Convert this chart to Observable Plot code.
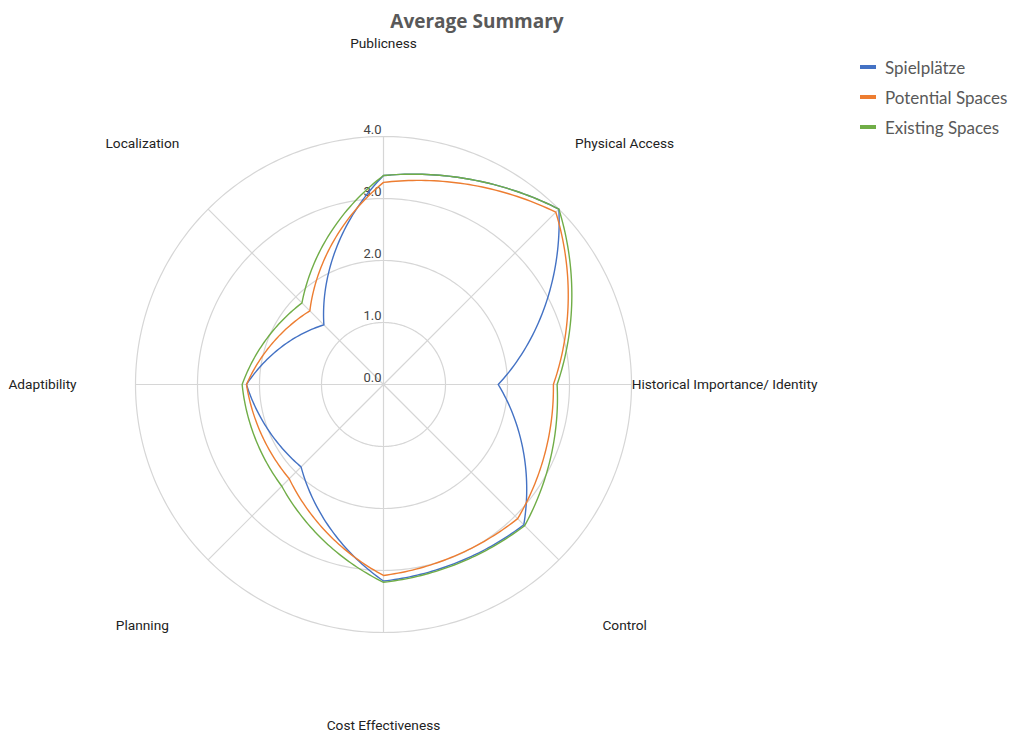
<!DOCTYPE html>
<html>
<head>
<meta charset="utf-8">
<script src="https://cdn.jsdelivr.net/npm/d3@7"></script>
<script src="https://cdn.jsdelivr.net/npm/@observablehq/plot@0.6"></script>
<style>
  html, body { margin: 0; padding: 0; background: #fff; }
  #wrap { position: relative; width: 1012px; height: 734px; overflow: hidden; }
  #title { position: absolute; left: 0; width: 954px; top: 8px; text-align: center;
    font-family: "Open Sans", sans-serif; font-weight: 700; font-size: 19px; color: #595959; }
  #legend { position: absolute; left: 860px; top: 52px; font-family: Lato, sans-serif; font-size: 17px; color: #595959; }
  .li { display: flex; align-items: center; height: 30px; }
  .sw { width: 16px; height: 4px; margin-right: 9px; }
  svg { position: absolute; left: 0; top: 0; }
</style>
</head>
<body>
<div id="wrap">
  <div id="title">Average Summary</div>
  <div id="legend"></div>
</div>
<script>
const categories = ["Publicness", "Physical Access", "Historical Importance/ Identity", "Control",
  "Cost Effectiveness", "Planning", "Adaptibility", "Localization"];
const seriesNames = ["Spielplätze", "Potential Spaces", "Existing Spaces"];
const spielplaetze = [3.37, 4.0, 1.85, 3.2, 3.17, 1.88, 2.21, 1.36];
const potentialSpaces = [3.26, 3.93, 2.74, 3.06, 3.08, 2.15, 2.21, 1.68];
const existingSpaces = [3.37, 4.0, 2.8, 3.22, 3.19, 2.32, 2.28, 1.86];
const tickValues = [0, 1, 2, 3, 4];
const tickLabels = ["0.0", "1.0", "2.0", "3.0", "4.0"];
const colors = ["#4472C4", "#ED7D31", "#70AD47"];

const seriesValues = [spielplaetze, potentialSpaces, existingSpaces];
const N = categories.length;
const angle = i => (i * 2 * Math.PI) / N;
const MAXV = 4;
const LABEL_R = 5.5;

// Scale layout
const X_RANGE = [135, 631];
const Y_RANGE = [632, 136];
const CX = (X_RANGE[0] + X_RANGE[1]) / 2;
const CY = (Y_RANGE[0] + Y_RANGE[1]) / 2;

// Curve blending polar-linear interpolation (around the chart centre) with the straight chord
function polarCurve(weight) {
  return function(context) {
    let pts;
    return {
      areaStart() {}, areaEnd() {},
      lineStart() { pts = []; },
      point(x, y) { pts.push([+x, +y]); },
      lineEnd() {
        const n = pts.length;
        if (!n) return;
        const pol = pts.map(([x, y]) => [Math.atan2(y - CY, x - CX), Math.hypot(x - CX, y - CY)]);
        context.moveTo(pts[0][0], pts[0][1]);
        for (let i = 0; i < n; i++) {
          const [a0, r0] = pol[i];
          const [a1, r1] = pol[(i + 1) % n];
          const p0 = pts[i], p1 = pts[(i + 1) % n];
          let da = a1 - a0;
          while (da > Math.PI) da -= 2 * Math.PI;
          while (da < -Math.PI) da += 2 * Math.PI;
          const steps = 40;
          for (let s = 1; s <= steps; s++) {
            const t = s / steps;
            const a = a0 + da * t, r = r0 + (r1 - r0) * t;
            const px = CX + r * Math.cos(a), py = CY + r * Math.sin(a);
            const lx = p0[0] + (p1[0] - p0[0]) * t, ly = p0[1] + (p1[1] - p0[1]) * t;
            context.lineTo(weight * px + (1 - weight) * lx, weight * py + (1 - weight) * ly);
          }
        }
        context.closePath();
      }
    };
  };
}

const points = [];
seriesNames.forEach((name, s) => {
  seriesValues[s].forEach((v, i) => points.push({series: name, s, i, value: v}));
});

const rings = [];
tickValues.filter(t => t > 0).forEach(t => {
  categories.forEach((c, i) => rings.push({tick: t, i}));
});

const spokes = categories.map((c, i) => ({i}));

const plot = Plot.plot({
  width: 1012,
  height: 734,
  margin: 0,
  x: {domain: [-MAXV, MAXV], range: X_RANGE, axis: null},
  y: {domain: [-MAXV, MAXV], range: Y_RANGE, axis: null},
  style: {background: "transparent"},
  marks: [
    Plot.line(rings, {
      x: d => d.tick * Math.sin(angle(d.i)),
      y: d => d.tick * Math.cos(angle(d.i)),
      z: "tick",
      curve: polarCurve(1),
      stroke: "#d6d6d6",
      strokeWidth: 1.2
    }),
    Plot.link(spokes, {
      x1: 0, y1: 0,
      x2: d => MAXV * Math.sin(angle(d.i)),
      y2: d => MAXV * Math.cos(angle(d.i)),
      stroke: "#d6d6d6",
      strokeWidth: 1.2
    }),
    Plot.text(tickValues, {
      x: 0,
      y: d => d,
      text: (d, k) => tickLabels[k],
      textAnchor: "end",
      dx: -2,
      dy: -7,
      fontSize: 13,
      fontFamily: "Roboto",
      fill: "#444"
    }),
    Plot.line(points, {
      x: d => d.value * Math.sin(angle(d.i)),
      y: d => d.value * Math.cos(angle(d.i)),
      z: "series",
      stroke: d => colors[d.s],
      curve: polarCurve(0.68),
      strokeWidth: 1.4
    }),
    Plot.text(categories, {
      x: (d, i) => LABEL_R * Math.sin(angle(i)),
      y: (d, i) => LABEL_R * Math.cos(angle(i)),
      text: d => d,
      textAnchor: "middle",
      fontSize: 13.7,
      fontFamily: "Roboto",
      fill: "#222"
    })
  ]
});

document.getElementById("wrap").appendChild(plot);

const legend = document.getElementById("legend");
seriesNames.forEach((name, s) => {
  const row = document.createElement("div");
  row.className = "li";
  const sw = document.createElement("span");
  sw.className = "sw";
  sw.style.background = colors[s];
  const tx = document.createElement("span");
  tx.textContent = name;
  row.appendChild(sw);
  row.appendChild(tx);
  legend.appendChild(row);
});
</script>
</body>
</html>
